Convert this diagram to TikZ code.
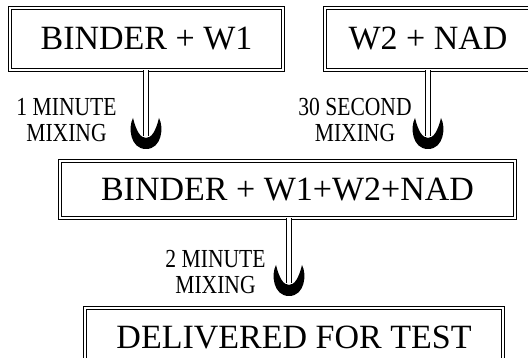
\documentclass[tikz,border=0pt]{standalone}
\usepackage{fontspec}
\setmainfont{Liberation Serif}
\newcommand{\narrowtxt}[1]{\scalebox{0.83}[1]{#1}}

\tikzset{
  stepbox/.style={draw, double, double distance=2pt, line width=1pt,
    inner sep=0, font=\fontsize{34}{40}\selectfont},
  shaft/.style={draw, double, double distance=3.5pt, line width=1.1pt},
  steplabel/.style={inner sep=0, align=center, font=\fontsize{26}{26}\selectfont},
  cup/.pic={\fill (-13,31) .. controls (-18,22) and (-16,0) .. (0,0)
    .. controls (16,0) and (18,22) .. (13,31)
    .. controls (10,19) and (6,11) .. (0,11)
    .. controls (-6,11) and (-10,19) .. (-13,31) -- cycle;}
}

\begin{document}
\begin{tikzpicture}[x=1pt,y=1pt]
\useasboundingbox (0,0) rectangle (528,358);
\clip (0,0) rectangle (528,358);
% boxes
\node[stepbox,minimum width=273pt,minimum height=62pt] (binder) at (146.5,319) {BINDER + W1};
\node[stepbox,minimum width=206pt,minimum height=62pt] (nad) at (428,319) {W2 + NAD};
\node[stepbox,minimum width=455pt,minimum height=57pt] (mix) at (287.5,168.5) {BINDER + W1+W2+NAD};
\node[stepbox,minimum width=418pt,minimum height=60pt] (test) at (294,20) {DELIVERED FOR TEST};
% mixing arrows
\coordinate (e1) at (146,222);
\coordinate (e2) at (428,222);
\coordinate (e3) at (289,75);
\draw[shaft] (binder.south -| e1) -- (e1);
\draw[shaft] (nad.south -| e2) -- (e2);
\draw[shaft] (mix.south -| e3) -- (e3);
\pic at ([yshift=-13pt]e1) {cup};
\pic at ([yshift=-13pt]e2) {cup};
\pic at ([yshift=-13pt]e3) {cup};
\node[steplabel] (t1) at (66.5,238) {\narrowtxt{1 MINUTE}\\\narrowtxt{MIXING}};
\node[steplabel] (t2) at (355,238) {\narrowtxt{30 SECOND}\\\narrowtxt{MIXING}};
\node[steplabel] (t3) at (215.5,86) {\narrowtxt{2 MINUTE}\\\narrowtxt{MIXING}};
\end{tikzpicture}
\end{document}
